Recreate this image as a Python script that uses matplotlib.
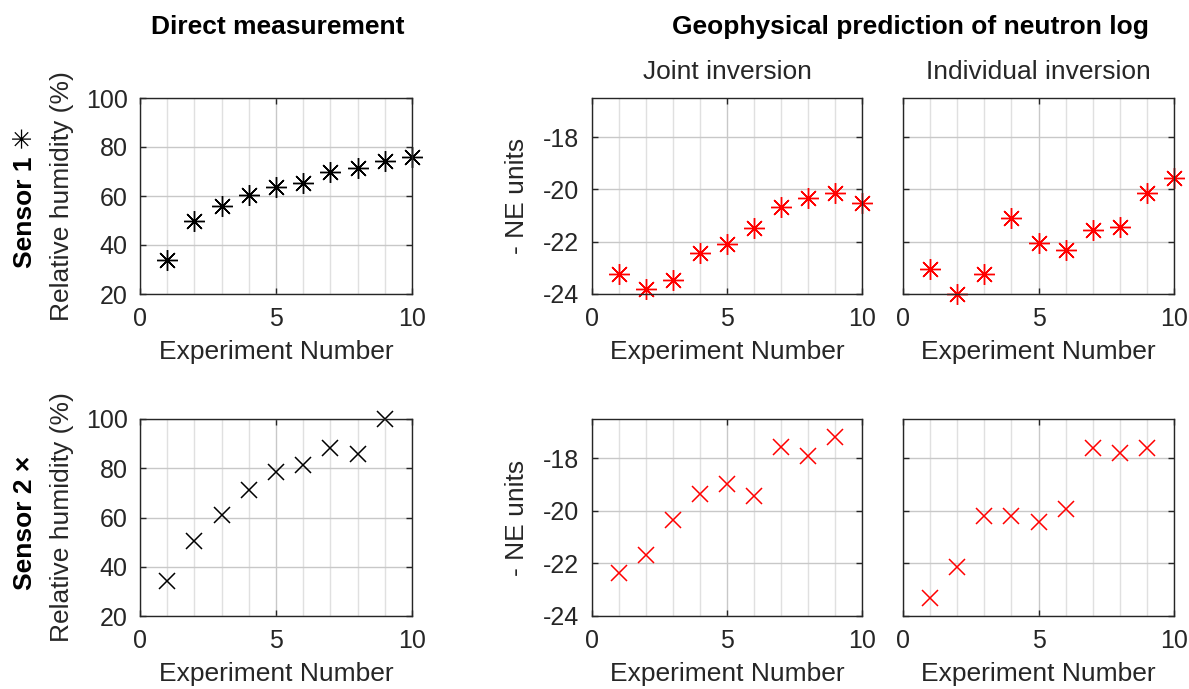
import numpy as np
import matplotlib
matplotlib.use("Agg")
import matplotlib.pyplot as plt
from matplotlib.ticker import MultipleLocator

plt.rcParams['font.family'] = ['Liberation Sans', 'DejaVu Sans']
plt.rcParams['axes.unicode_minus'] = False

# experiment numbers
exp1 = [1, 2, 3, 4, 5, 6, 7, 8, 9, 10]
exp2 = [1, 2, 3, 4, 5, 6, 7, 8, 9]

# sensor 1
rh1 = [34, 50, 56, 60.4, 63.5, 65.4, 69.7, 71.3, 74.3, 76]
joint1 = [-23.22, -23.81, -23.45, -22.42, -22.10, -21.49, -20.69, -20.33, -20.12, -20.5]
indiv1 = [-23.04, -24.0, -23.24, -21.11, -22.03, -22.31, -21.55, -21.43, -20.14, -19.57]

# sensor 2
rh2 = [34.2, 50.6, 60.9, 71.3, 78.5, 81.4, 88.4, 85.9, 99.8]
joint2 = [-22.37, -21.69, -20.35, -19.34, -18.96, -19.43, -17.55, -17.9, -17.17]
indiv2 = [-23.3, -22.15, -20.19, -20.19, -20.42, -19.94, -17.61, -17.78, -17.61]

W, H = 1189, 689
fig = plt.figure(figsize=(W / 100, H / 100), dpi=100)

dark = '#262626'
asterisk = (8, 2, 0)


def make_axes(x0, x1, y0, y1):
    return fig.add_axes([x0 / W, 1 - y1 / H, (x1 - x0) / W, (y1 - y0) / H])


def style(ax, ylim, yticks, ylabel=None, ylab_x=-0.28):
    ax.set_xlim(0, 10)
    ax.set_ylim(*ylim)
    ax.set_xticks([0, 5, 10])
    ax.xaxis.set_minor_locator(MultipleLocator(1))
    ax.set_yticks(yticks)
    ax.grid(True, which='major', color='#c8c8c8', linewidth=1)
    ax.grid(True, which='minor', axis='x', color='#e0e0e0', linewidth=1)
    ax.set_axisbelow(True)
    ax.tick_params(which='major', direction='in', top=True, right=True,
                   length=4, width=1, color=dark, labelcolor=dark,
                   labelsize=18, pad=9)
    ax.tick_params(which='minor', length=0)
    for s in ax.spines.values():
        s.set_color(dark)
        s.set_linewidth(1)
    ax.set_xlabel('Experiment Number', fontsize=19, color=dark, va='center')
    ax.xaxis.set_label_coords(0.5, -0.295)
    if ylabel is None:
        ax.tick_params(labelleft=False)
    else:
        ax.set_ylabel(ylabel, fontsize=19, color=dark, va='center')
        ax.yaxis.set_label_coords(ylab_x, 0.5)


cols = [(140, 412), (592, 862), (903, 1174)]
rows = [(98, 294), (419, 616)]

rh_lim, rh_ticks = (20, 100), [20, 40, 60, 80, 100]
ne_lim, ne_ticks = (-24, -16.5), [-24, -22, -20, -18]

star_kw = dict(linestyle='none', marker=asterisk, ms=15, mew=1.0, clip_on=False)
cross_kw = dict(linestyle='none', marker='x', ms=11, mew=1.1, clip_on=False)

# row 1: sensor 1
ax = make_axes(*cols[0], *rows[0])
ax.plot(exp1, rh1, color='k', **star_kw)
style(ax, rh_lim, rh_ticks, 'Relative humidity (%)', -0.285)

ax = make_axes(*cols[1], *rows[0])
ax.plot(exp1, joint1, color='r', **star_kw)
style(ax, ne_lim, ne_ticks, '- NE units', -0.278)

ax = make_axes(*cols[2], *rows[0])
ax.plot(exp1, indiv1, color='r', **star_kw)
style(ax, ne_lim, ne_ticks)

# row 2: sensor 2
ax = make_axes(*cols[0], *rows[1])
ax.plot(exp2, rh2, color='k', **cross_kw)
style(ax, rh_lim, rh_ticks, 'Relative humidity (%)', -0.285)

ax = make_axes(*cols[1], *rows[1])
ax.plot(exp2, joint2, color='r', **cross_kw)
style(ax, ne_lim, ne_ticks, '- NE units', -0.278)

ax = make_axes(*cols[2], *rows[1])
ax.plot(exp2, indiv2, color='r', **cross_kw)
style(ax, ne_lim, ne_ticks)

# column headings
fig.text(278 / W, 1 - 27 / H, 'Direct measurement', fontsize=19, weight='bold',
         ha='center', va='center')
fig.text(910 / W, 1 - 27 / H, 'Geophysical prediction of neutron log', fontsize=19,
         weight='bold', ha='center', va='center')
fig.text(727 / W, 1 - 72 / H, 'Joint inversion', fontsize=19, color=dark,
         ha='center', va='center')
fig.text(1038 / W, 1 - 72 / H, 'Individual inversion', fontsize=19, color=dark,
         ha='center', va='center')

# row headings
fig.text(25 / W, 1 - 197 / H, 'Sensor 1 \u2733', fontsize=19, weight='bold',
         rotation=90, ha='center', va='center')
fig.text(25 / W, 1 - 523 / H, 'Sensor 2 \u00d7', fontsize=19, weight='bold',
         rotation=90, ha='center', va='center')

fig.savefig('out.png', dpi=100)
